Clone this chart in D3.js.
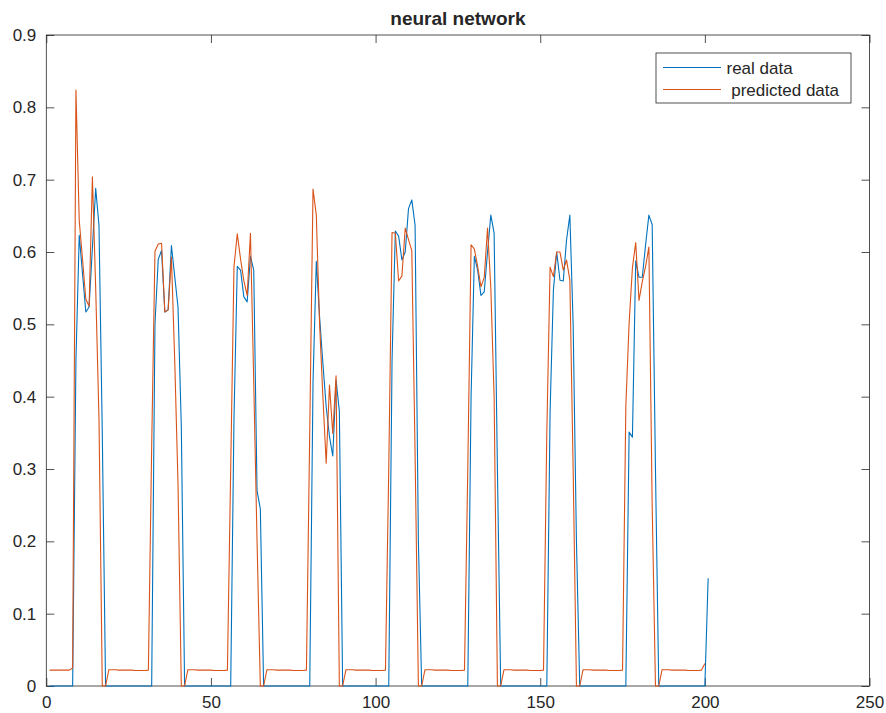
<!DOCTYPE html>
<html>
<head>
<meta charset="utf-8">
<script src="https://cdn.jsdelivr.net/npm/d3@7"></script>
<style>
  body { margin: 0; background: #fff; }
  svg text { font-family: "Liberation Sans", Arial, Helvetica, sans-serif; fill: #262626; }
</style>
</head>
<body>
<svg id="chart" width="886" height="713"></svg>
<script>
// real data (sample 1..201)
const realData = [
  0, 0, 0, 0, 0, 0, 0, 0,
  0.45, 0.623, 0.57, 0.517, 0.524, 0.606, 0.688, 0.637, 0.35,
  0, 0, 0, 0, 0, 0, 0, 0, 0, 0, 0, 0, 0, 0, 0,
  0.5, 0.59, 0.602, 0.517, 0.52, 0.609, 0.566, 0.524, 0.36,
  0, 0, 0, 0, 0, 0, 0, 0, 0, 0, 0, 0, 0, 0, 0,
  0.37, 0.58, 0.575, 0.538, 0.531, 0.594, 0.575, 0.27, 0.245,
  0, 0, 0, 0, 0, 0, 0, 0, 0, 0, 0, 0, 0, 0, 0,
  0.42, 0.587, 0.51, 0.446, 0.386, 0.345, 0.318, 0.423, 0.38,
  0, 0, 0, 0, 0, 0, 0, 0, 0, 0, 0, 0, 0, 0, 0,
  0.45, 0.629, 0.622, 0.589, 0.6, 0.66, 0.672, 0.637, 0.2,
  0, 0, 0, 0, 0, 0, 0, 0, 0, 0, 0, 0, 0, 0, 0,
  0.4, 0.594, 0.575, 0.54, 0.545, 0.6, 0.651, 0.626, 0.3,
  0, 0, 0, 0, 0, 0, 0, 0, 0, 0, 0, 0, 0, 0, 0,
  0.38, 0.547, 0.6, 0.561, 0.56, 0.617, 0.651, 0.5, 0.2,
  0, 0, 0, 0, 0, 0, 0, 0, 0, 0, 0, 0, 0, 0, 0,
  0.351, 0.344, 0.588, 0.565, 0.565, 0.61, 0.651, 0.638, 0.3,
  0, 0, 0, 0, 0, 0, 0, 0, 0, 0, 0, 0, 0, 0, 0,
  0.149
];

// predicted data (sample 1..200)
const predictedData = [
  0.022, 0.022, 0.022, 0.022, 0.022, 0.022, 0.022, 0.025,
  0.824, 0.644, 0.59, 0.535, 0.525, 0.704, 0.55, 0.37,
  0, 0,
  0.0225, 0.0225, 0.0225, 0.022, 0.022, 0.022, 0.022, 0.022, 0.0215, 0.0215, 0.0215, 0.0215, 0.022,
  0.33, 0.601, 0.611, 0.612, 0.517, 0.52, 0.593, 0.45, 0.28,
  0, 0,
  0.0225, 0.0225, 0.0225, 0.022, 0.022, 0.022, 0.022, 0.022, 0.0215, 0.0215, 0.0215, 0.0215, 0.022,
  0.3, 0.58, 0.625, 0.59, 0.56, 0.54, 0.626, 0.42, 0.2,
  0, 0,
  0.0225, 0.0225, 0.0225, 0.022, 0.022, 0.022, 0.022, 0.022, 0.0215, 0.0215, 0.0215, 0.0215, 0.022,
  0.35, 0.687, 0.651, 0.5, 0.4, 0.308, 0.416, 0.349, 0.429,
  0, 0,
  0.0225, 0.0225, 0.0225, 0.022, 0.022, 0.022, 0.022, 0.022, 0.0215, 0.0215, 0.0215, 0.0215, 0.022,
  0.3, 0.627, 0.626, 0.56, 0.567, 0.633, 0.617, 0.602, 0.32,
  0, 0,
  0.0225, 0.0225, 0.0225, 0.022, 0.022, 0.022, 0.022, 0.022, 0.0215, 0.0215, 0.0215, 0.0215, 0.022,
  0.3, 0.61, 0.604, 0.58, 0.552, 0.565, 0.633, 0.55, 0.4,
  0, 0,
  0.0225, 0.0225, 0.0225, 0.022, 0.022, 0.022, 0.022, 0.022, 0.0215, 0.0215, 0.0215, 0.0215, 0.022,
  0.35, 0.579, 0.566, 0.6, 0.6, 0.575, 0.589, 0.561, 0.3,
  0, 0,
  0.0225, 0.0225, 0.0225, 0.022, 0.022, 0.022, 0.022, 0.022, 0.0215, 0.0215, 0.0215, 0.0215, 0.022,
  0.387, 0.502, 0.578, 0.613, 0.533, 0.559, 0.58, 0.607, 0.25,
  0, 0,
  0.0225, 0.0225, 0.0225, 0.022, 0.022, 0.022, 0.022, 0.022, 0.0215, 0.0215, 0.0215, 0.0215, 0.022,
  0.031
];

const xTicks = [0, 50, 100, 150, 200, 250];
const yTicks = [0, 0.1, 0.2, 0.3, 0.4, 0.5, 0.6, 0.7, 0.8, 0.9];
const seriesNames = ["real data", " predicted data"];
const seriesColors = ["#0072BD", "#D95319"];

// Axes box in pixels
const boxLeft = 46.3, boxRight = 869.5, boxTop = 35, boxBottom = 686;

const svg = d3.select("#chart");

const x = d3.scaleLinear().domain([0, 250]).range([boxLeft, boxRight]);
const y = d3.scaleLinear().domain([0, 0.9]).range([boxBottom, boxTop]);

// Axis styling helper
let styleAxis = (g) => {
	g.select(".domain").remove();
	g.selectAll(".tick line").attr("stroke", "#262626").attr("stroke-width", 0.8);
	g.selectAll(".tick text").attr("font-size", 17).attr("fill", "#262626");
};

// Bottom and left axes with labels, ticks pointing inward
svg.append("g")
	.attr("transform", "translate(0," + boxBottom + ")")
	.call(d3.axisBottom(x).tickValues(xTicks).tickSize(-8).tickPadding(10).tickFormat(d3.format("d")))
	.call(styleAxis);

svg.append("g")
	.attr("transform", "translate(" + boxLeft + ",0)")
	.call(d3.axisLeft(y).tickValues(yTicks).tickSize(-8).tickPadding(10).tickFormat(d => d === 0 ? "0" : d3.format(".1f")(d)))
	.call(styleAxis);

// Top and right axes, ticks only
svg.append("g")
	.attr("transform", "translate(0," + boxTop + ")")
	.call(d3.axisTop(x).tickValues(xTicks).tickSize(-8).tickFormat(""))
	.call(styleAxis);

svg.append("g")
	.attr("transform", "translate(" + boxRight + ",0)")
	.call(d3.axisRight(y).tickValues(yTicks).tickSize(-8).tickFormat(""))
	.call(styleAxis);

// Box
svg.append("rect")
	.attr("x", boxLeft).attr("y", boxTop)
	.attr("width", boxRight - boxLeft).attr("height", boxBottom - boxTop)
	.attr("fill", "none")
	.attr("stroke", "#262626")
	.attr("stroke-width", 0.8);

// Lines
let line = d3.line()
	.x((d, i) => x(i + 1))
	.y(d => y(d));

[realData, predictedData].forEach((data, i) => {
	svg.append("path")
		.datum(data)
		.attr("fill", "none")
		.attr("stroke", seriesColors[i])
		.attr("stroke-width", 1.1)
		.attr("stroke-linejoin", "round")
		.attr("d", line);
});

// Title
svg.append("text")
	.attr("x", (boxLeft + boxRight) / 2)
	.attr("y", 25)
	.attr("text-anchor", "middle")
	.attr("font-size", 19)
	.attr("font-weight", "bold")
	.attr("fill", "#000")
	.text("neural network");

// Legend
let legend = svg.append("g");
legend.append("rect")
	.attr("x", 656).attr("y", 53)
	.attr("width", 195).attr("height", 50)
	.attr("fill", "#fff")
	.attr("stroke", "#262626")
	.attr("stroke-width", 0.8);

seriesNames.forEach((name, i) => {
	let ly = 67.5 + i * 22;
	legend.append("line")
		.attr("x1", 663).attr("x2", 721)
		.attr("y1", ly).attr("y2", ly)
		.attr("stroke", seriesColors[i])
		.attr("stroke-width", 1.1);
	legend.append("text")
		.attr("x", 726.5)
		.attr("y", ly + 6)
		.attr("font-size", 17)
		.style("white-space", "pre")
		.text(name);
});
</script>
</body>
</html>
